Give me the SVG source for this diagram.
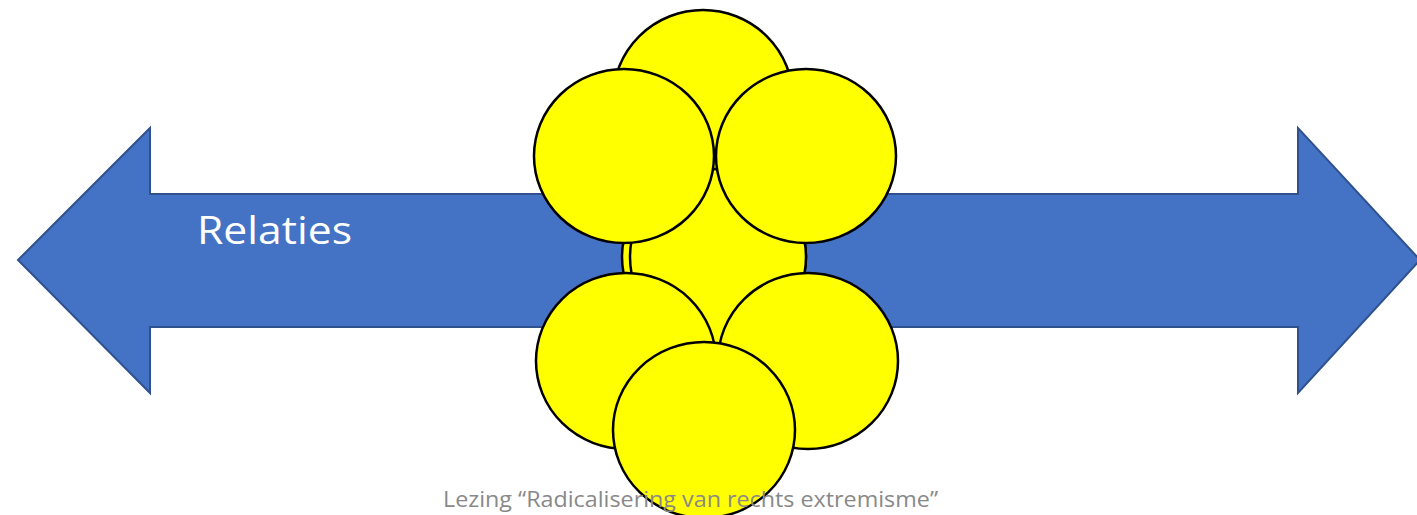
<svg xmlns="http://www.w3.org/2000/svg" width="1417" height="515" viewBox="0 0 1417 515">
<style>
.arrow{fill:#4472C4;stroke:#2F528F;stroke-width:2}
.ball{fill:#FFFF00;stroke:#000;stroke-width:2.5}
.label{font-family:"Open Sans","Liberation Sans",sans-serif;fill:#fff;font-size:39px}
.caption{font-family:"Open Sans","Liberation Sans",sans-serif;fill:#898989;font-size:22px}
</style>
<rect width="1417" height="515" fill="#fff"/>
<g id="arrow">
<path class="arrow" d="M18,260 L150,128 L150,194 L1298,194 L1298,128 L1420,260 L1298,393 L1298,327 L150,327 L150,393 Z"/>
<text class="label" x="197" y="244" textLength="155" lengthAdjust="spacingAndGlyphs">Relaties</text>
</g>
<g id="circles">
<ellipse id="c-top" class="ball" cx="703" cy="99" rx="90" ry="89"/>
<ellipse id="c-mid1" class="ball" cx="714" cy="257" rx="92" ry="88"/>
<ellipse id="c-mid2" class="ball" cx="718" cy="257" rx="88" ry="88"/>
<ellipse id="c-tl" class="ball" cx="624" cy="156" rx="90" ry="87"/>
<ellipse id="c-tr" class="ball" cx="806" cy="156" rx="90" ry="87"/>
<ellipse id="c-bl" class="ball" cx="626" cy="361" rx="90" ry="88"/>
<ellipse id="c-br" class="ball" cx="808" cy="361" rx="90" ry="88"/>
<ellipse id="c-bc" class="ball" cx="704" cy="430" rx="91" ry="88"/>
</g>
<text class="caption" x="443" y="507" textLength="495" lengthAdjust="spacingAndGlyphs">Lezing “Radicalisering van rechts extremisme”</text>
</svg>
